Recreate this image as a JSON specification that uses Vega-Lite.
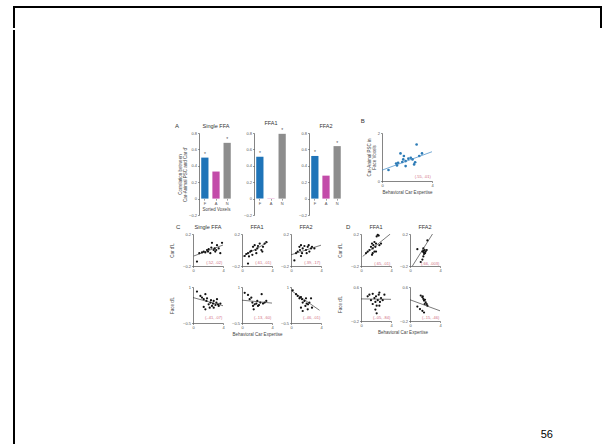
{
"$schema": "https://vega.github.io/schema/vega-lite/v6.json",
"background": "white",
"padding": {"left": 12, "top": 5, "right": 0, "bottom": 0},
"config": {
  "font": "Liberation Sans",
  "view": {"stroke": null},
  "axis": {"labelFontSize": 4, "labelColor": "#555", "labelPadding": 1, "labelFlush": false, "labelOverlap": false, "labelBound": false, "tickSize": 1.5, "tickWidth": 0.5, "tickColor": "#333", "domainColor": "#333", "domainWidth": 0.6, "titleFontSize": 4.5, "titleFontWeight": "normal", "titleColor": "#444", "titlePadding": 2, "grid": false, "titleLineHeight": 4.5},
  "title": {"fontSize": 5.5, "fontWeight": "normal", "color": "#333", "offset": 2}
},
"datasets": {
  "bars": [
    {"panel": "A1", "voxels": "F", "r": 0.5, "sig": "*"},
    {"panel": "A1", "voxels": "A", "r": 0.33, "sig": ""},
    {"panel": "A1", "voxels": "N", "r": 0.68, "sig": "*"},
    {"panel": "A2", "voxels": "F", "r": 0.51, "sig": "*"},
    {"panel": "A2", "voxels": "A", "r": 0.005, "sig": ""},
    {"panel": "A2", "voxels": "N", "r": 0.79, "sig": "*"},
    {"panel": "A3", "voxels": "F", "r": 0.52, "sig": "*"},
    {"panel": "A3", "voxels": "A", "r": 0.28, "sig": ""},
    {"panel": "A3", "voxels": "N", "r": 0.64, "sig": "*"}
  ],
  "pts": [
    {"panel": "B", "x": 0.52, "y": 0.46}, {"panel": "B", "x": 1.13, "y": 0.73}, {"panel": "B", "x": 1.29, "y": 0.76}, {"panel": "B", "x": 1.48, "y": 1.15}, {"panel": "B", "x": 1.62, "y": 0.79}, {"panel": "B", "x": 1.75, "y": 1.04}, {"panel": "B", "x": 1.89, "y": 0.83}, {"panel": "B", "x": 1.89, "y": 0.62}, {"panel": "B", "x": 2.11, "y": 0.93}, {"panel": "B", "x": 2.3, "y": 0.97}, {"panel": "B", "x": 2.44, "y": 0.9}, {"panel": "B", "x": 2.57, "y": 0.69}, {"panel": "B", "x": 2.65, "y": 0.78}, {"panel": "B", "x": 2.77, "y": 1.52}, {"panel": "B", "x": 2.98, "y": 1.04}, {"panel": "B", "x": 3.2, "y": 1.15}, {"panel": "B", "x": 1.7, "y": 0.9}, {"panel": "B", "x": 1.2, "y": 0.65},
    {"panel": "C1", "x": 0.53, "y": -0.145}, {"panel": "C1", "x": 0.84, "y": -0.04}, {"panel": "C1", "x": 1.2, "y": -0.03}, {"panel": "C1", "x": 1.43, "y": -0.02}, {"panel": "C1", "x": 1.64, "y": -0.03}, {"panel": "C1", "x": 1.87, "y": 0}, {"panel": "C1", "x": 2.0, "y": -0.02}, {"panel": "C1", "x": 2.09, "y": 0.01}, {"panel": "C1", "x": 2.31, "y": -0.04}, {"panel": "C1", "x": 2.44, "y": 0.03}, {"panel": "C1", "x": 2.53, "y": 0.09}, {"panel": "C1", "x": 2.76, "y": 0}, {"panel": "C1", "x": 2.89, "y": 0.02}, {"panel": "C1", "x": 2.97, "y": -0.02}, {"panel": "C1", "x": 3.1, "y": 0}, {"panel": "C1", "x": 3.2, "y": 0.06}, {"panel": "C1", "x": 3.43, "y": 0.02}, {"panel": "C1", "x": 3.64, "y": -0.04}, {"panel": "C1", "x": 3.87, "y": 0.09},
    {"panel": "C2", "x": 0.36, "y": -0.075}, {"panel": "C2", "x": 0.57, "y": -0.05}, {"panel": "C2", "x": 0.8, "y": -0.04}, {"panel": "C2", "x": 0.93, "y": -0.08}, {"panel": "C2", "x": 1.1, "y": -0.02}, {"panel": "C2", "x": 1.24, "y": -0.01}, {"panel": "C2", "x": 1.38, "y": -0.06}, {"panel": "C2", "x": 1.47, "y": 0.04}, {"panel": "C2", "x": 1.69, "y": 0.06}, {"panel": "C2", "x": 1.82, "y": 0}, {"panel": "C2", "x": 1.91, "y": -0.04}, {"panel": "C2", "x": 2.04, "y": 0.02}, {"panel": "C2", "x": 2.13, "y": 0.05}, {"panel": "C2", "x": 2.36, "y": 0.08}, {"panel": "C2", "x": 2.58, "y": 0}, {"panel": "C2", "x": 2.71, "y": -0.02}, {"panel": "C2", "x": 2.8, "y": 0.04}, {"panel": "C2", "x": 3.02, "y": 0.08}, {"panel": "C2", "x": 3.24, "y": 0.1}, {"panel": "C2", "x": 0.8, "y": -0.17},
    {"panel": "C3", "x": 0.45, "y": -0.13}, {"panel": "C3", "x": 0.67, "y": -0.04}, {"panel": "C3", "x": 0.89, "y": -0.02}, {"panel": "C3", "x": 1.12, "y": 0.04}, {"panel": "C3", "x": 1.2, "y": 0}, {"panel": "C3", "x": 1.33, "y": 0.06}, {"panel": "C3", "x": 1.47, "y": -0.04}, {"panel": "C3", "x": 1.56, "y": 0.02}, {"panel": "C3", "x": 1.79, "y": 0.05}, {"panel": "C3", "x": 2.0, "y": 0}, {"panel": "C3", "x": 2.09, "y": -0.04}, {"panel": "C3", "x": 2.23, "y": 0.04}, {"panel": "C3", "x": 2.36, "y": 0.06}, {"panel": "C3", "x": 2.45, "y": -0.02}, {"panel": "C3", "x": 2.67, "y": 0.02}, {"panel": "C3", "x": 2.8, "y": 0.04}, {"panel": "C3", "x": 3.12, "y": 0.02}, {"panel": "C3", "x": 1.33, "y": -0.075},
    {"panel": "C4", "x": 0.53, "y": 0.81}, {"panel": "C4", "x": 0.99, "y": 0.63}, {"panel": "C4", "x": 1.2, "y": 0.56}, {"panel": "C4", "x": 1.43, "y": 0.49}, {"panel": "C4", "x": 1.65, "y": 0.7}, {"panel": "C4", "x": 1.79, "y": 0.42}, {"panel": "C4", "x": 1.87, "y": 0.53}, {"panel": "C4", "x": 2.09, "y": 0.28}, {"panel": "C4", "x": 2.32, "y": 0.35}, {"panel": "C4", "x": 2.4, "y": 0.45}, {"panel": "C4", "x": 2.53, "y": 0.21}, {"panel": "C4", "x": 2.67, "y": 0.31}, {"panel": "C4", "x": 2.76, "y": 0.42}, {"panel": "C4", "x": 2.99, "y": 0.25}, {"panel": "C4", "x": 3.12, "y": 0.35}, {"panel": "C4", "x": 3.2, "y": 0.49}, {"panel": "C4", "x": 3.33, "y": 0.28}, {"panel": "C4", "x": 3.43, "y": 0.21}, {"panel": "C4", "x": 3.65, "y": 0.31}, {"panel": "C4", "x": 1.65, "y": 0.07}, {"panel": "C4", "x": 1.43, "y": 0.17}, {"panel": "C4", "x": 2.23, "y": 0.14}, {"panel": "C4", "x": 2.76, "y": 0.14},
    {"panel": "C5", "x": 0.36, "y": 0.76}, {"panel": "C5", "x": 0.8, "y": 0.67}, {"panel": "C5", "x": 1.02, "y": 0.49}, {"panel": "C5", "x": 1.24, "y": 0.56}, {"panel": "C5", "x": 1.38, "y": 0.35}, {"panel": "C5", "x": 1.47, "y": 0.21}, {"panel": "C5", "x": 1.69, "y": 0.28}, {"panel": "C5", "x": 1.91, "y": 0.31}, {"panel": "C5", "x": 2.04, "y": 0.42}, {"panel": "C5", "x": 2.27, "y": 0.25}, {"panel": "C5", "x": 2.44, "y": 0.35}, {"panel": "C5", "x": 2.62, "y": 0.7}, {"panel": "C5", "x": 2.8, "y": 0.31}, {"panel": "C5", "x": 3.02, "y": 0.35}, {"panel": "C5", "x": 3.24, "y": 0.42}, {"panel": "C5", "x": 1.56, "y": 0.07}, {"panel": "C5", "x": 2.13, "y": 0.21},
    {"panel": "C6", "x": 0.23, "y": 0.86}, {"panel": "C6", "x": 0.67, "y": 0.7}, {"panel": "C6", "x": 0.89, "y": 0.63}, {"panel": "C6", "x": 1.12, "y": 0.53}, {"panel": "C6", "x": 1.2, "y": 0.56}, {"panel": "C6", "x": 1.33, "y": 0.58}, {"panel": "C6", "x": 1.47, "y": 0.49}, {"panel": "C6", "x": 1.56, "y": 0.35}, {"panel": "C6", "x": 1.79, "y": 0.42}, {"panel": "C6", "x": 1.92, "y": 0.21}, {"panel": "C6", "x": 2.0, "y": 0.53}, {"panel": "C6", "x": 2.09, "y": 0.31}, {"panel": "C6", "x": 2.27, "y": 0.28}, {"panel": "C6", "x": 2.45, "y": 0.35}, {"panel": "C6", "x": 2.67, "y": 0.53}, {"panel": "C6", "x": 2.8, "y": 0.14}, {"panel": "C6", "x": 1.33, "y": 0.14}, {"panel": "C6", "x": 1.56, "y": 0}, {"panel": "C6", "x": 2.23, "y": 0.07},
    {"panel": "D1", "x": 0.67, "y": -0.04}, {"panel": "D1", "x": 0.89, "y": -0.02}, {"panel": "D1", "x": 1.12, "y": 0}, {"panel": "D1", "x": 1.33, "y": 0.04}, {"panel": "D1", "x": 1.47, "y": 0.08}, {"panel": "D1", "x": 1.56, "y": 0.02}, {"panel": "D1", "x": 1.65, "y": 0.06}, {"panel": "D1", "x": 1.79, "y": 0.1}, {"panel": "D1", "x": 1.92, "y": 0.04}, {"panel": "D1", "x": 2.0, "y": 0.08}, {"panel": "D1", "x": 2.09, "y": 0.17}, {"panel": "D1", "x": 2.23, "y": 0.19}, {"panel": "D1", "x": 2.36, "y": 0.18}, {"panel": "D1", "x": 2.45, "y": 0.06}, {"panel": "D1", "x": 1.56, "y": -0.04}, {"panel": "D1", "x": 1.79, "y": -0.02}, {"panel": "D1", "x": 1.47, "y": -0.06}, {"panel": "D1", "x": 2.0, "y": -0.02}, {"panel": "D1", "x": 2.67, "y": 0.08},
    {"panel": "D2", "x": 0.98, "y": 0.01}, {"panel": "D2", "x": 1.65, "y": -0.02}, {"panel": "D2", "x": 1.78, "y": -0.01}, {"panel": "D2", "x": 1.87, "y": -0.03}, {"panel": "D2", "x": 1.96, "y": 0}, {"panel": "D2", "x": 2.09, "y": -0.02}, {"panel": "D2", "x": 2.0, "y": -0.04}, {"panel": "D2", "x": 1.87, "y": -0.05}, {"panel": "D2", "x": 2.23, "y": 0}, {"panel": "D2", "x": 1.78, "y": -0.08}, {"panel": "D2", "x": 1.65, "y": -0.12}, {"panel": "D2", "x": 1.43, "y": -0.15}, {"panel": "D2", "x": 2.32, "y": 0.12}, {"panel": "D2", "x": 1.78, "y": 0.02},
    {"panel": "D3", "x": 0.89, "y": 0.38}, {"panel": "D3", "x": 1.12, "y": 0.42}, {"panel": "D3", "x": 1.33, "y": 0.29}, {"panel": "D3", "x": 1.56, "y": 0.44}, {"panel": "D3", "x": 1.79, "y": 0.34}, {"panel": "D3", "x": 1.92, "y": 0.25}, {"panel": "D3", "x": 2.0, "y": 0.38}, {"panel": "D3", "x": 2.09, "y": 0.16}, {"panel": "D3", "x": 2.23, "y": 0.29}, {"panel": "D3", "x": 2.36, "y": 0.42}, {"panel": "D3", "x": 2.45, "y": 0.47}, {"panel": "D3", "x": 2.53, "y": 0.25}, {"panel": "D3", "x": 2.67, "y": 0.34}, {"panel": "D3", "x": 2.89, "y": 0.29}, {"panel": "D3", "x": 1.92, "y": 0.07}, {"panel": "D3", "x": 2.09, "y": -0.02}, {"panel": "D3", "x": 1.56, "y": 0.2}, {"panel": "D3", "x": 2.45, "y": 0.16}, {"panel": "D3", "x": 3.12, "y": 0.42},
    {"panel": "D4", "x": 1.43, "y": 0.4}, {"panel": "D4", "x": 1.65, "y": 0.36}, {"panel": "D4", "x": 1.78, "y": 0.32}, {"panel": "D4", "x": 1.87, "y": 0.28}, {"panel": "D4", "x": 2.0, "y": 0.3}, {"panel": "D4", "x": 2.09, "y": 0.24}, {"panel": "D4", "x": 2.23, "y": 0.2}, {"panel": "D4", "x": 2.32, "y": 0.16}, {"panel": "D4", "x": 1.96, "y": 0.2}, {"panel": "D4", "x": 1.33, "y": 0.08}, {"panel": "D4", "x": 1.65, "y": 0.04}, {"panel": "D4", "x": 1.87, "y": 0}, {"panel": "D4", "x": 0.98, "y": 0.14}, {"panel": "D4", "x": 1.7, "y": 0.38}
  ],
  "fit": [
    {"panel": "B", "x": 0, "y": 0.45}, {"panel": "B", "x": 4, "y": 1.22},
    {"panel": "C1", "x": 0.1, "y": -0.075}, {"panel": "C1", "x": 4, "y": 0.062},
    {"panel": "C2", "x": 0.13, "y": -0.08}, {"panel": "C2", "x": 3.47, "y": 0.1},
    {"panel": "C3", "x": 0, "y": -0.06}, {"panel": "C3", "x": 4, "y": 0.06},
    {"panel": "C4", "x": 0, "y": 0.56}, {"panel": "C4", "x": 4, "y": 0.22},
    {"panel": "C5", "x": 0, "y": 0.45}, {"panel": "C5", "x": 4, "y": 0.33},
    {"panel": "C6", "x": 0, "y": 0.86}, {"panel": "C6", "x": 3.8, "y": 0.03},
    {"panel": "D1", "x": 0.23, "y": -0.08}, {"panel": "D1", "x": 3.9, "y": 0.2},
    {"panel": "D2", "x": 0.32, "y": -0.2}, {"panel": "D2", "x": 3, "y": 0.2},
    {"panel": "D3", "x": 0, "y": 0.32}, {"panel": "D3", "x": 4, "y": 0.31},
    {"panel": "D4", "x": 0, "y": 0.3}, {"panel": "D4", "x": 4, "y": 0.04}
  ],
  "stats": [
    {"panel": "B", "label": "(.55, .01)"},
    {"panel": "C1", "label": "(.52, .02)"}, {"panel": "C2", "label": "(.61, .01)"}, {"panel": "C3", "label": "(.39, .17)"},
    {"panel": "C4", "label": "(-.41, .07)"}, {"panel": "C5", "label": "(-.13, .60)"}, {"panel": "C6", "label": "(-.46, .01)"},
    {"panel": "D1", "label": "(.65, .01)"}, {"panel": "D2", "label": "(.66, .003)"},
    {"panel": "D3", "label": "(-.05, .84)"}, {"panel": "D4", "label": "(-.15, .46)"}
  ]
},
"bounds": "full",
"spacing": 0,
"vconcat": [
  {"width": 587, "height": 20, "view": {"stroke": "#000", "strokeWidth": 2, "strokeCap": "square", "strokeDash": [607, 587, 20, 1]}, "data": {"values": []}, "mark": "point"},
  {
    "bounds": "full",
    "spacing": 0,
    "hconcat": [
      {"width": 20, "height": 420, "view": {"stroke": "#000", "strokeWidth": 2, "strokeCap": "square", "strokeDash": [420, 460], "strokeDashOffset": 420}, "data": {"values": []}, "mark": "point"},
      {"width": 126, "height": 1, "data": {"values": []}, "mark": "point"},
      {
        "bounds": "full",
        "spacing": 0,
        "vconcat": [
          {"width": 1, "height": 87, "data": {"values": []}, "mark": "point"},
          {
            "bounds": "full",
            "spacing": 7,
            "vconcat": [
              {
                "bounds": "full",
                "spacing": 17,
                "hconcat": [
                  {
                    "bounds": "flush",
                    "spacing": 21,
                    "hconcat": [
                      {"width": 16, "height": 1, "title": {"text": "A", "anchor": "start", "dx": 13, "fontSize": 6, "offset": 4}, "data": {"values": []}, "mark": "point"},
                      {
                        "width": 34, "height": 82,
                        "title": {"text": "Single FFA"},
                        "data": {"name": "bars"},
                        "transform": [{"filter": "datum.panel === 'A1'"}],
                        "encoding": {
                          "x": {"field": "voxels", "type": "nominal", "sort": ["F", "A", "N"], "scale": {"paddingInner": 0.35, "paddingOuter": 0.2}, "axis": {"offset": -16.4, "domain": false, "labelAngle": 0, "title": "Sorted Voxels", "titlePadding": 1}},
                          "y": {"field": "r", "type": "quantitative", "scale": {"domain": [-0.2, 0.8], "nice": false}, "axis": {"values": [-0.2, 0, 0.2, 0.4, 0.6, 0.8], "format": "~g", "title": ["Correlation between", "Car-Animal PSC and Car d'"], "titlePadding": 1.5}}
                        },
                        "layer": [
                          {"mark": {"type": "bar"}, "encoding": {"color": {"field": "voxels", "type": "nominal", "scale": {"domain": ["F", "A", "N"], "range": ["#1f74b8", "#c34ca9", "#8d8d8d"]}, "legend": null}}},
                          {"mark": {"type": "text", "baseline": "bottom", "dy": -0.5, "fontSize": 5, "color": "#555"}, "encoding": {"text": {"field": "sig"}}}
                        ]
                      },
                      {
                        "width": 34, "height": 82,
                        "title": {"text": "FFA1"},
                        "data": {"name": "bars"},
                        "transform": [{"filter": "datum.panel === 'A2'"}],
                        "encoding": {
                          "x": {"field": "voxels", "type": "nominal", "sort": ["F", "A", "N"], "scale": {"paddingInner": 0.35, "paddingOuter": 0.2}, "axis": {"offset": -16.4, "domain": false, "labelAngle": 0, "title": null}},
                          "y": {"field": "r", "type": "quantitative", "scale": {"domain": [-0.2, 0.8], "nice": false}, "axis": {"values": [-0.2, 0, 0.2, 0.4, 0.6, 0.8], "format": "~g", "title": null}}
                        },
                        "layer": [
                          {"mark": {"type": "bar"}, "encoding": {"color": {"field": "voxels", "type": "nominal", "scale": {"domain": ["F", "A", "N"], "range": ["#1f74b8", "#c34ca9", "#8d8d8d"]}, "legend": null}}},
                          {"mark": {"type": "text", "baseline": "bottom", "dy": -0.5, "fontSize": 5, "color": "#555"}, "encoding": {"text": {"field": "sig"}}}
                        ]
                      },
                      {
                        "width": 34, "height": 82,
                        "title": {"text": "FFA2"},
                        "data": {"name": "bars"},
                        "transform": [{"filter": "datum.panel === 'A3'"}],
                        "encoding": {
                          "x": {"field": "voxels", "type": "nominal", "sort": ["F", "A", "N"], "scale": {"paddingInner": 0.35, "paddingOuter": 0.2}, "axis": {"offset": -16.4, "domain": false, "labelAngle": 0, "title": null}},
                          "y": {"field": "r", "type": "quantitative", "scale": {"domain": [-0.2, 0.8], "nice": false}, "axis": {"values": [-0.2, 0, 0.2, 0.4, 0.6, 0.8], "format": "~g", "title": null}}
                        },
                        "layer": [
                          {"mark": {"type": "bar"}, "encoding": {"color": {"field": "voxels", "type": "nominal", "scale": {"domain": ["F", "A", "N"], "range": ["#1f74b8", "#c34ca9", "#8d8d8d"]}, "legend": null}}},
                          {"mark": {"type": "text", "baseline": "bottom", "dy": -0.5, "fontSize": 5, "color": "#555"}, "encoding": {"text": {"field": "sig"}}}
                        ]
                      }
                    ]
                  },
                  {
                    "width": 50, "height": 48,
                    "title": {"text": "B", "anchor": "start", "dx": -6, "fontSize": 6, "offset": 7},
                    "layer": [
                      {"data": {"name": "pts"}, "transform": [{"filter": "datum.panel === 'B'"}], "mark": {"type": "circle", "size": 7, "color": "#2c7bb6", "opacity": 1},
                       "encoding": {"x": {"field": "x", "type": "quantitative", "scale": {"domain": [0, 4], "nice": false}, "axis": {"values": [0, 2, 4], "title": "Behavioral Car Expertise"}},
                                    "y": {"field": "y", "type": "quantitative", "scale": {"domain": [0, 2], "nice": false}, "axis": {"values": [0, 1, 2], "title": ["Car-Animal PSC in", "Face Voxels"], "titlePadding": 1}}}},
                      {"data": {"name": "fit"}, "transform": [{"filter": "datum.panel === 'B'"}], "mark": {"type": "line", "color": "#3d86c3", "strokeWidth": 0.7, "clip": true},
                       "encoding": {"x": {"field": "x", "type": "quantitative"}, "y": {"field": "y", "type": "quantitative"}}},
                      {"data": {"name": "stats"}, "transform": [{"filter": "datum.panel === 'B'"}], "mark": {"type": "text", "align": "right", "baseline": "middle", "fontSize": 4, "color": "#d06c80"},
                       "encoding": {"x": {"datum": 3.9}, "y": {"datum": 0.17}, "text": {"field": "label"}}}
                    ]
                  }
                ]
              },
              {
                "bounds": "flush",
                "align": "each",
                "columns": 7,
                "spacing": {"row": 21, "column": 19},
                "concat": [
                  {"width": 12, "height": 1, "title": {"text": "C", "anchor": "start", "dx": 14, "fontSize": 6, "offset": 4}, "data": {"values": []}, "mark": "point"},
                  {"width": 30, "height": 32, "title": "Single FFA", "layer": [
                    {"data": {"name": "pts"}, "transform": [{"filter": "datum.panel === 'C1'"}], "mark": {"type": "circle", "size": 5, "color": "#111", "opacity": 1},
                     "encoding": {"x": {"field": "x", "type": "quantitative", "scale": {"domain": [0, 4], "nice": false}, "axis": {"values": [0, 2, 4], "title": null}}, "y": {"field": "y", "type": "quantitative", "scale": {"domain": [-0.2, 0.2], "nice": false}, "axis": {"values": [-0.2, 0, 0.2], "format": "~g", "title": "Car d'L", "titlePadding": 8}}}},
                    {"data": {"name": "fit"}, "transform": [{"filter": "datum.panel === 'C1'"}], "mark": {"type": "line", "color": "#222", "strokeWidth": 0.6, "clip": true}, "encoding": {"x": {"field": "x", "type": "quantitative"}, "y": {"field": "y", "type": "quantitative"}}},
                    {"data": {"name": "stats"}, "transform": [{"filter": "datum.panel === 'C1'"}], "mark": {"type": "text", "align": "right", "baseline": "middle", "fontSize": 4, "color": "#d06c80"}, "encoding": {"x": {"datum": 3.9}, "y": {"datum": -0.16}, "text": {"field": "label"}}}
                  ]},
                  {"width": 30, "height": 32, "title": "FFA1", "layer": [
                    {"data": {"name": "pts"}, "transform": [{"filter": "datum.panel === 'C2'"}], "mark": {"type": "circle", "size": 5, "color": "#111", "opacity": 1},
                     "encoding": {"x": {"field": "x", "type": "quantitative", "scale": {"domain": [0, 4], "nice": false}, "axis": {"values": [0, 2, 4], "title": null}}, "y": {"field": "y", "type": "quantitative", "scale": {"domain": [-0.2, 0.2], "nice": false}, "axis": {"values": [-0.2, 0, 0.2], "format": "~g", "title": null}}}},
                    {"data": {"name": "fit"}, "transform": [{"filter": "datum.panel === 'C2'"}], "mark": {"type": "line", "color": "#222", "strokeWidth": 0.6, "clip": true}, "encoding": {"x": {"field": "x", "type": "quantitative"}, "y": {"field": "y", "type": "quantitative"}}},
                    {"data": {"name": "stats"}, "transform": [{"filter": "datum.panel === 'C2'"}], "mark": {"type": "text", "align": "right", "baseline": "middle", "fontSize": 4, "color": "#d06c80"}, "encoding": {"x": {"datum": 3.9}, "y": {"datum": -0.16}, "text": {"field": "label"}}}
                  ]},
                  {"width": 30, "height": 32, "title": "FFA2", "layer": [
                    {"data": {"name": "pts"}, "transform": [{"filter": "datum.panel === 'C3'"}], "mark": {"type": "circle", "size": 5, "color": "#111", "opacity": 1},
                     "encoding": {"x": {"field": "x", "type": "quantitative", "scale": {"domain": [0, 4], "nice": false}, "axis": {"values": [0, 2, 4], "title": null}}, "y": {"field": "y", "type": "quantitative", "scale": {"domain": [-0.2, 0.2], "nice": false}, "axis": {"values": [-0.2, 0, 0.2], "format": "~g", "title": null}}}},
                    {"data": {"name": "fit"}, "transform": [{"filter": "datum.panel === 'C3'"}], "mark": {"type": "line", "color": "#222", "strokeWidth": 0.6, "clip": true}, "encoding": {"x": {"field": "x", "type": "quantitative"}, "y": {"field": "y", "type": "quantitative"}}},
                    {"data": {"name": "stats"}, "transform": [{"filter": "datum.panel === 'C3'"}], "mark": {"type": "text", "align": "right", "baseline": "middle", "fontSize": 4, "color": "#d06c80"}, "encoding": {"x": {"datum": 3.9}, "y": {"datum": -0.16}, "text": {"field": "label"}}}
                  ]},
                  {"width": 1.3, "height": 1, "title": {"text": "D", "anchor": "start", "dx": 6, "fontSize": 6, "offset": 4}, "data": {"values": []}, "mark": "point"},
                  {"width": 30, "height": 32, "title": "FFA1", "layer": [
                    {"data": {"name": "pts"}, "transform": [{"filter": "datum.panel === 'D1'"}], "mark": {"type": "circle", "size": 5, "color": "#111", "opacity": 1},
                     "encoding": {"x": {"field": "x", "type": "quantitative", "scale": {"domain": [0, 4], "nice": false}, "axis": {"values": [0, 2, 4], "title": null}}, "y": {"field": "y", "type": "quantitative", "scale": {"domain": [-0.2, 0.2], "nice": false}, "axis": {"values": [-0.2, 0, 0.2], "format": "~g", "title": "Car d'L", "titlePadding": 8}}}},
                    {"data": {"name": "fit"}, "transform": [{"filter": "datum.panel === 'D1'"}], "mark": {"type": "line", "color": "#222", "strokeWidth": 0.6, "clip": true}, "encoding": {"x": {"field": "x", "type": "quantitative"}, "y": {"field": "y", "type": "quantitative"}}},
                    {"data": {"name": "stats"}, "transform": [{"filter": "datum.panel === 'D1'"}], "mark": {"type": "text", "align": "right", "baseline": "middle", "fontSize": 4, "color": "#d06c80"}, "encoding": {"x": {"datum": 3.9}, "y": {"datum": -0.17}, "text": {"field": "label"}}}
                  ]},
                  {"width": 30, "height": 32, "title": "FFA2", "layer": [
                    {"data": {"name": "pts"}, "transform": [{"filter": "datum.panel === 'D2'"}], "mark": {"type": "circle", "size": 5, "color": "#111", "opacity": 1},
                     "encoding": {"x": {"field": "x", "type": "quantitative", "scale": {"domain": [0, 4], "nice": false}, "axis": {"values": [0, 2, 4], "title": null}}, "y": {"field": "y", "type": "quantitative", "scale": {"domain": [-0.2, 0.2], "nice": false}, "axis": {"values": [-0.2, 0, 0.2], "format": "~g", "title": null}}}},
                    {"data": {"name": "fit"}, "transform": [{"filter": "datum.panel === 'D2'"}], "mark": {"type": "line", "color": "#222", "strokeWidth": 0.6, "clip": true}, "encoding": {"x": {"field": "x", "type": "quantitative"}, "y": {"field": "y", "type": "quantitative"}}},
                    {"data": {"name": "stats"}, "transform": [{"filter": "datum.panel === 'D2'"}], "mark": {"type": "text", "align": "right", "baseline": "middle", "fontSize": 4, "color": "#d06c80"}, "encoding": {"x": {"datum": 3.9}, "y": {"datum": -0.17}, "text": {"field": "label"}}}
                  ]},
                  {"width": 12, "height": 1, "data": {"values": []}, "mark": "point"},
                  {"width": 30, "height": 36, "layer": [
                    {"data": {"name": "pts"}, "transform": [{"filter": "datum.panel === 'C4'"}], "mark": {"type": "circle", "size": 5, "color": "#111", "opacity": 1},
                     "encoding": {"x": {"field": "x", "type": "quantitative", "scale": {"domain": [0, 4], "nice": false}, "axis": {"values": [0, 2, 4], "title": null}}, "y": {"field": "y", "type": "quantitative", "scale": {"domain": [-0.5, 1], "nice": false}, "axis": {"values": [-0.5, 0, 0.5, 1], "format": "~g", "title": "Face d'L", "titlePadding": 8}}}},
                    {"data": {"name": "fit"}, "transform": [{"filter": "datum.panel === 'C4'"}], "mark": {"type": "line", "color": "#222", "strokeWidth": 0.6, "clip": true}, "encoding": {"x": {"field": "x", "type": "quantitative"}, "y": {"field": "y", "type": "quantitative"}}},
                    {"data": {"name": "stats"}, "transform": [{"filter": "datum.panel === 'C4'"}], "mark": {"type": "text", "align": "right", "baseline": "middle", "fontSize": 4, "color": "#d06c80"}, "encoding": {"x": {"datum": 3.9}, "y": {"datum": -0.3}, "text": {"field": "label"}}}
                  ]},
                  {"width": 30, "height": 36, "layer": [
                    {"data": {"name": "pts"}, "transform": [{"filter": "datum.panel === 'C5'"}], "mark": {"type": "circle", "size": 5, "color": "#111", "opacity": 1},
                     "encoding": {"x": {"field": "x", "type": "quantitative", "scale": {"domain": [0, 4], "nice": false}, "axis": {"values": [0, 2, 4], "title": "Behavioral Car Expertise"}}, "y": {"field": "y", "type": "quantitative", "scale": {"domain": [-0.5, 1], "nice": false}, "axis": {"values": [-0.5, 0, 0.5, 1], "format": "~g", "title": null}}}},
                    {"data": {"name": "fit"}, "transform": [{"filter": "datum.panel === 'C5'"}], "mark": {"type": "line", "color": "#222", "strokeWidth": 0.6, "clip": true}, "encoding": {"x": {"field": "x", "type": "quantitative"}, "y": {"field": "y", "type": "quantitative"}}},
                    {"data": {"name": "stats"}, "transform": [{"filter": "datum.panel === 'C5'"}], "mark": {"type": "text", "align": "right", "baseline": "middle", "fontSize": 4, "color": "#d06c80"}, "encoding": {"x": {"datum": 3.9}, "y": {"datum": -0.3}, "text": {"field": "label"}}}
                  ]},
                  {"width": 30, "height": 36, "layer": [
                    {"data": {"name": "pts"}, "transform": [{"filter": "datum.panel === 'C6'"}], "mark": {"type": "circle", "size": 5, "color": "#111", "opacity": 1},
                     "encoding": {"x": {"field": "x", "type": "quantitative", "scale": {"domain": [0, 4], "nice": false}, "axis": {"values": [0, 2, 4], "title": null}}, "y": {"field": "y", "type": "quantitative", "scale": {"domain": [-0.5, 1], "nice": false}, "axis": {"values": [-0.5, 0, 0.5, 1], "format": "~g", "title": null}}}},
                    {"data": {"name": "fit"}, "transform": [{"filter": "datum.panel === 'C6'"}], "mark": {"type": "line", "color": "#222", "strokeWidth": 0.6, "clip": true}, "encoding": {"x": {"field": "x", "type": "quantitative"}, "y": {"field": "y", "type": "quantitative"}}},
                    {"data": {"name": "stats"}, "transform": [{"filter": "datum.panel === 'C6'"}], "mark": {"type": "text", "align": "right", "baseline": "middle", "fontSize": 4, "color": "#d06c80"}, "encoding": {"x": {"datum": 3.9}, "y": {"datum": -0.3}, "text": {"field": "label"}}}
                  ]},
                  {"width": 1.3, "height": 1, "data": {"values": []}, "mark": "point"},
                  {"width": 30, "height": 34, "layer": [
                    {"data": {"name": "pts"}, "transform": [{"filter": "datum.panel === 'D3'"}], "mark": {"type": "circle", "size": 5, "color": "#111", "opacity": 1},
                     "encoding": {"x": {"field": "x", "type": "quantitative", "scale": {"domain": [0, 4], "nice": false}, "axis": {"values": [0, 2, 4], "title": "Behavioral Car Expertise", "titleX": 41.5}}, "y": {"field": "y", "type": "quantitative", "scale": {"domain": [-0.2, 0.6], "nice": false}, "axis": {"values": [-0.2, 0, 0.2, 0.4, 0.6], "format": "~g", "title": "Face d'L", "titlePadding": 8}}}},
                    {"data": {"name": "fit"}, "transform": [{"filter": "datum.panel === 'D3'"}], "mark": {"type": "line", "color": "#222", "strokeWidth": 0.6, "clip": true}, "encoding": {"x": {"field": "x", "type": "quantitative"}, "y": {"field": "y", "type": "quantitative"}}},
                    {"data": {"name": "stats"}, "transform": [{"filter": "datum.panel === 'D3'"}], "mark": {"type": "text", "align": "right", "baseline": "middle", "fontSize": 4, "color": "#d06c80"}, "encoding": {"x": {"datum": 3.9}, "y": {"datum": -0.12}, "text": {"field": "label"}}}
                  ]},
                  {"width": 30, "height": 34, "layer": [
                    {"data": {"name": "pts"}, "transform": [{"filter": "datum.panel === 'D4'"}], "mark": {"type": "circle", "size": 5, "color": "#111", "opacity": 1},
                     "encoding": {"x": {"field": "x", "type": "quantitative", "scale": {"domain": [0, 4], "nice": false}, "axis": {"values": [0, 2, 4], "title": null}}, "y": {"field": "y", "type": "quantitative", "scale": {"domain": [-0.2, 0.6], "nice": false}, "axis": {"values": [-0.2, 0, 0.2, 0.4, 0.6], "format": "~g", "title": null}}}},
                    {"data": {"name": "fit"}, "transform": [{"filter": "datum.panel === 'D4'"}], "mark": {"type": "line", "color": "#222", "strokeWidth": 0.6, "clip": true}, "encoding": {"x": {"field": "x", "type": "quantitative"}, "y": {"field": "y", "type": "quantitative"}}},
                    {"data": {"name": "stats"}, "transform": [{"filter": "datum.panel === 'D4'"}], "mark": {"type": "text", "align": "right", "baseline": "middle", "fontSize": 4, "color": "#d06c80"}, "encoding": {"x": {"datum": 3.9}, "y": {"datum": -0.12}, "text": {"field": "label"}}}
                  ]}
                ]
              }
            ]
          },
          {"width": 419, "height": 1, "title": {"text": "56", "orient": "bottom", "anchor": "end", "offset": 92, "dx": -28, "fontSize": 11, "color": "#000", "fontWeight": "normal"}, "data": {"values": []}, "mark": "point"}
        ]
      },
      {"width": 20, "height": 420, "view": {"stroke": "#000", "strokeWidth": 2, "strokeCap": "square", "strokeDash": [420, 460], "strokeDashOffset": 860}, "data": {"values": []}, "mark": "point"}
    ]
  }
]
}
